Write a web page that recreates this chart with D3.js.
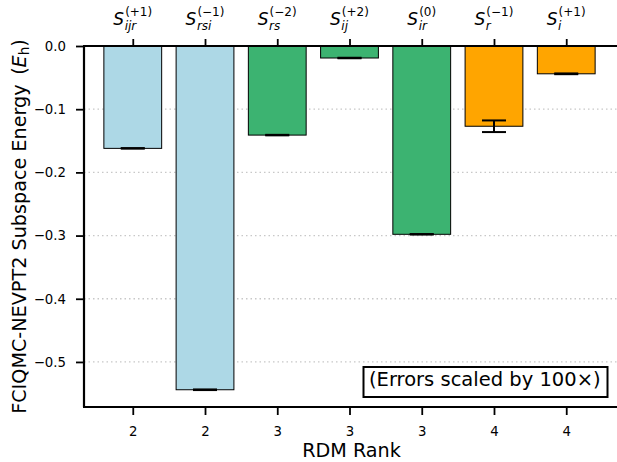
<!DOCTYPE html>
<html><head><meta charset="utf-8">
<script src="https://cdn.jsdelivr.net/npm/d3@7"></script>
<style>body{margin:0;background:#fff}svg{display:block}text{font-family:"DejaVu Sans",sans-serif;fill:#000}</style>
</head><body><svg id="c" width="617" height="462"></svg>
<script>
const rdmRank = ["2","2","3","3","3","4","4"];
const subLabels = ["ijr","rsi","rs","ij","ir","r","i"];
const supLabels = ["(+1)","(\u22121)","(\u22122)","(+2)","(0)","(\u22121)","(+1)"];
const energies = [-0.162,-0.544,-0.141,-0.019,-0.298,-0.127,-0.044];
const errorsScaled = [0.0004,0.0005,0.0004,0.0004,0.0004,0.0092,0.0006];
const barColors = ["#ADD8E6","#ADD8E6","#3CB371","#3CB371","#3CB371","#FFA500","#FFA500"];
const yTicks = [0.0,-0.1,-0.2,-0.3,-0.4,-0.5];

const svg = d3.select("#c");
const L=84, R=615, T=46, B=407;
const x = d3.scaleLinear().domain([-0.675, 6.675]).range([L,R]);
const y = d3.scaleLinear().domain([-0.5713, 0]).range([B,T]);
const bw = x(0.4)-x(-0.4);

// grid
svg.append("g").selectAll("line").data(yTicks.filter(d=>d!==0)).join("line")
  .attr("x1",L).attr("x2",R+2).attr("y1",d=>y(d)).attr("y2",d=>y(d))
  .attr("stroke","#c8c8c8").attr("stroke-width",1.3).attr("stroke-dasharray","1.5,3");

// bars
svg.append("g").selectAll("rect").data(energies).join("rect")
  .attr("x",(d,i)=>x(i)-bw/2).attr("width",bw)
  .attr("y",y(0)).attr("height",d=>y(d)-y(0))
  .attr("fill",(d,i)=>barColors[i]).attr("stroke","#000").attr("stroke-width",1);

// error bars
const eg = svg.append("g");
energies.forEach((d,i)=>{
  const e = errorsScaled[i];
  eg.append("line").attr("x1",x(i)).attr("x2",x(i)).attr("y1",y(d-e)).attr("y2",y(d+e)).attr("stroke","#000").attr("stroke-width",2);
  [d-e,d+e].forEach(v=>eg.append("line").attr("x1",x(i)-12).attr("x2",x(i)+12).attr("y1",y(v)).attr("y2",y(v)).attr("stroke","#000").attr("stroke-width",2));
});

// axes
const yAxis = d3.axisLeft(y).tickValues(yTicks).tickSize(8).tickPadding(10)
  .tickFormat(d=>d3.format(".1f")(d).replace("-","\u2212"));
const gy = svg.append("g").attr("transform",`translate(${L},0)`).call(yAxis);
gy.select(".domain").remove();
gy.selectAll(".tick line").attr("stroke-width",1.8);
gy.selectAll(".tick text").attr("font-size",13.3).attr("font-family","DejaVu Sans");

const xAxis = d3.axisBottom(x).tickValues(d3.range(7)).tickSize(8).tickPadding(12).tickFormat(i=>rdmRank[i]);
const gx = svg.append("g").attr("transform",`translate(0,${B})`).call(xAxis);
gx.select(".domain").remove();
gx.selectAll(".tick line").attr("stroke-width",1.8);
gx.selectAll(".tick text").attr("font-size",13.3).attr("font-family","DejaVu Sans");

const xTop = d3.axisTop(x).tickValues(d3.range(7)).tickSize(7).tickFormat("");
const gt = svg.append("g").attr("transform",`translate(0,${T})`).call(xTop);
gt.select(".domain").remove();
gt.selectAll(".tick line").attr("stroke-width",1.8);

// spines
svg.append("line").attr("x1",L).attr("x2",L).attr("y1",T).attr("y2",B).attr("stroke","#000").attr("stroke-width",2.2);
svg.append("line").attr("x1",L-1).attr("x2",617).attr("y1",T).attr("y2",T).attr("stroke","#000").attr("stroke-width",2.2);
svg.append("line").attr("x1",L-1).attr("x2",617).attr("y1",B).attr("y2",B).attr("stroke","#000").attr("stroke-width",2.2);

// top labels
d3.range(7).forEach(i=>{
  const g = svg.append("g");
  const s = g.append("text").attr("x",0).attr("y",25).attr("font-size",17).attr("font-style","italic").text("S");
  const sw = s.node().getComputedTextLength();
  const sup = g.append("text").attr("x",sw+1).attr("y",16).attr("font-size",12).text(supLabels[i]);
  const sub = g.append("text").attr("x",sw+0.5).attr("y",29.5).attr("font-size",12).attr("font-style","italic").text(subLabels[i]);
  const tw = sw + 1 + Math.max(sup.node().getComputedTextLength(), sub.node().getComputedTextLength());
  g.attr("transform",`translate(${x(i)-tw/2},0)`);
});

// axis titles
svg.append("text").attr("x",(L+R)/2+2).attr("y",457).attr("text-anchor","middle").attr("font-size",19.2).text("RDM Rank");
const yl = svg.append("text").attr("transform",`translate(26,${(T+B)/2}) rotate(-90)`).attr("text-anchor","middle").attr("font-size",19.2);
yl.append("tspan").text("FCIQMC-NEVPT2 Subspace Energy\u2002(");
yl.append("tspan").attr("font-style","italic").text("E");
yl.append("tspan").attr("font-size",13.5).attr("dy",3).text("h");
yl.append("tspan").attr("dy",-3).text(")");

// note box
svg.append("rect").attr("x",363.5).attr("y",367).attr("width",244).attr("height",30).attr("fill","#fff").attr("stroke","#000").attr("stroke-width",2);
svg.append("text").attr("x",484.8).attr("y",386).attr("text-anchor","middle").attr("font-size",19.5).text("(Errors scaled by 100\u00d7)");
</script></body></html>
